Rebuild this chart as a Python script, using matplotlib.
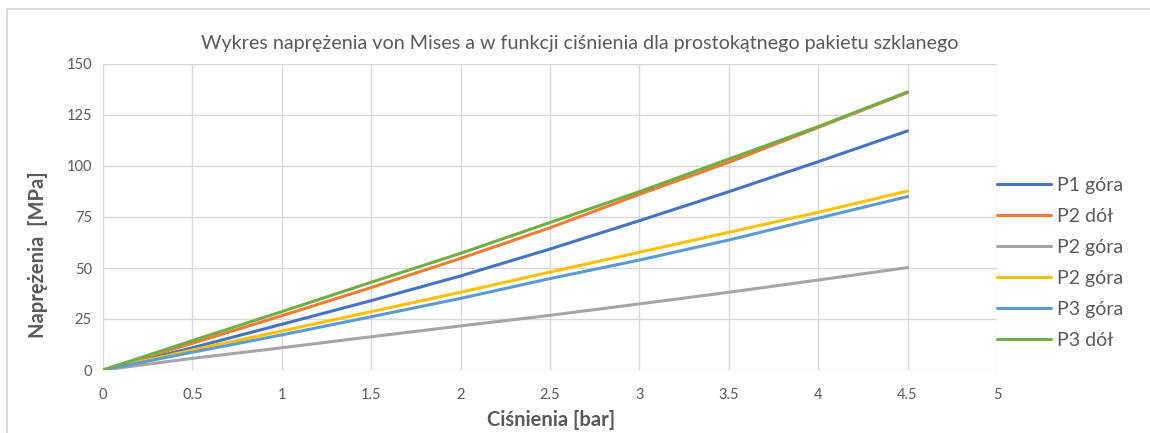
import matplotlib
matplotlib.use("Agg")
import matplotlib.pyplot as plt
from matplotlib.patches import Rectangle

# Pressure [bar] and von Mises stress [MPa] for each measuring point
pressure = [0, 0.5, 1, 1.5, 2, 2.5, 3, 3.5, 4, 4.5]
p1_gora = [0, 10.9, 22.4, 34.0, 46.1, 59.3, 73.2, 87.4, 102.1, 117.2]
p2_dol = [0, 13.1, 26.6, 40.4, 54.7, 69.7, 86.1, 101.8, 118.9, 136.0]
p2_gora_a = [0, 5.7, 10.9, 16.3, 21.6, 26.8, 32.4, 38.1, 44.1, 50.2]
p2_gora_b = [0, 9.8, 19.1, 28.6, 38.1, 48.0, 57.7, 67.5, 77.3, 87.7]
p3_gora = [0, 8.7, 17.2, 26.1, 35.1, 44.8, 53.9, 63.7, 74.4, 85.0]
p3_dol = [0, 14.4, 28.6, 43.0, 57.2, 72.3, 87.4, 103.4, 119.3, 136.3]

series_labels = ["P1 góra", "P2 dół", "P2 góra", "P2 góra", "P3 góra", "P3 dół"]
series_values = [p1_gora, p2_dol, p2_gora_a, p2_gora_b, p3_gora, p3_dol]
series_colors = ["#4472C4", "#ED7D31", "#A5A5A5", "#FFC000", "#5B9BD5", "#70AD47"]

x_ticks = [0, 0.5, 1, 1.5, 2, 2.5, 3, 3.5, 4, 4.5, 5]
x_tick_labels = ["0", "0.5", "1", "1.5", "2", "2.5", "3", "3.5", "4", "4.5", "5"]
y_ticks = [0, 25, 50, 75, 100, 125, 150]

title = "Wykres naprężenia von Mises a w funkcji ciśnienia dla prostokątnego pakietu szklanego"
x_label = "Ciśnienia [bar]"
y_label = "Naprężenia  [MPa]"

plt.rcParams["font.family"] = ["Lato", "DejaVu Sans"]
text_color = "#595959"
grid_color = "#D9D9D9"

W, H = 1150, 433
fig = plt.figure(figsize=(W / 100, H / 100), dpi=100)

# chart frame
fig.patches.append(Rectangle((6.5 / W, -0.1), 1.2, 1 - 9.5 / H + 0.1,
                             transform=fig.transFigure, fill=False,
                             edgecolor=grid_color, linewidth=1.3))

ax = fig.add_axes([103 / W, (H - 370) / H, 894 / W, 306 / H])
for lbl, vals, col in zip(series_labels, series_values, series_colors):
    ax.plot(pressure, vals, color=col, linewidth=2.2, label=lbl,
            solid_capstyle="round", solid_joinstyle="round")

ax.set_xlim(0, 5)
ax.set_ylim(0, 150)
ax.set_xticks(x_ticks)
ax.set_xticklabels(x_tick_labels)
ax.set_yticks(y_ticks)
ax.grid(True, color=grid_color, linewidth=1.0)
ax.set_axisbelow(True)
for s in ax.spines.values():
    s.set_visible(False)
ax.tick_params(length=0, colors=text_color, labelsize=10.5)
ax.tick_params(axis="x", pad=13)
ax.tick_params(axis="y", pad=8)

fig.text(580 / W, 1 - 44 / H, title, ha="center", va="center",
         fontsize=14.2, color=text_color)
fig.text(551 / W, 1 - 420 / H, x_label, ha="center", va="center",
         fontsize=14.5, color=text_color, fontweight="bold")
fig.text(38 / W, 1 - 255 / H, y_label, ha="center", va="center",
         rotation=90, fontsize=14.5, color=text_color, fontweight="bold")

leg = ax.legend(loc="center left", bbox_to_anchor=(997 / W, 1 - 263 / H),
                bbox_transform=fig.transFigure, frameon=False,
                fontsize=14, handlelength=2.8, handletextpad=0.28,
                labelspacing=0.72, borderpad=0, borderaxespad=0)
for t in leg.get_texts():
    t.set_color(text_color)

fig.savefig("out.png", dpi=100)
